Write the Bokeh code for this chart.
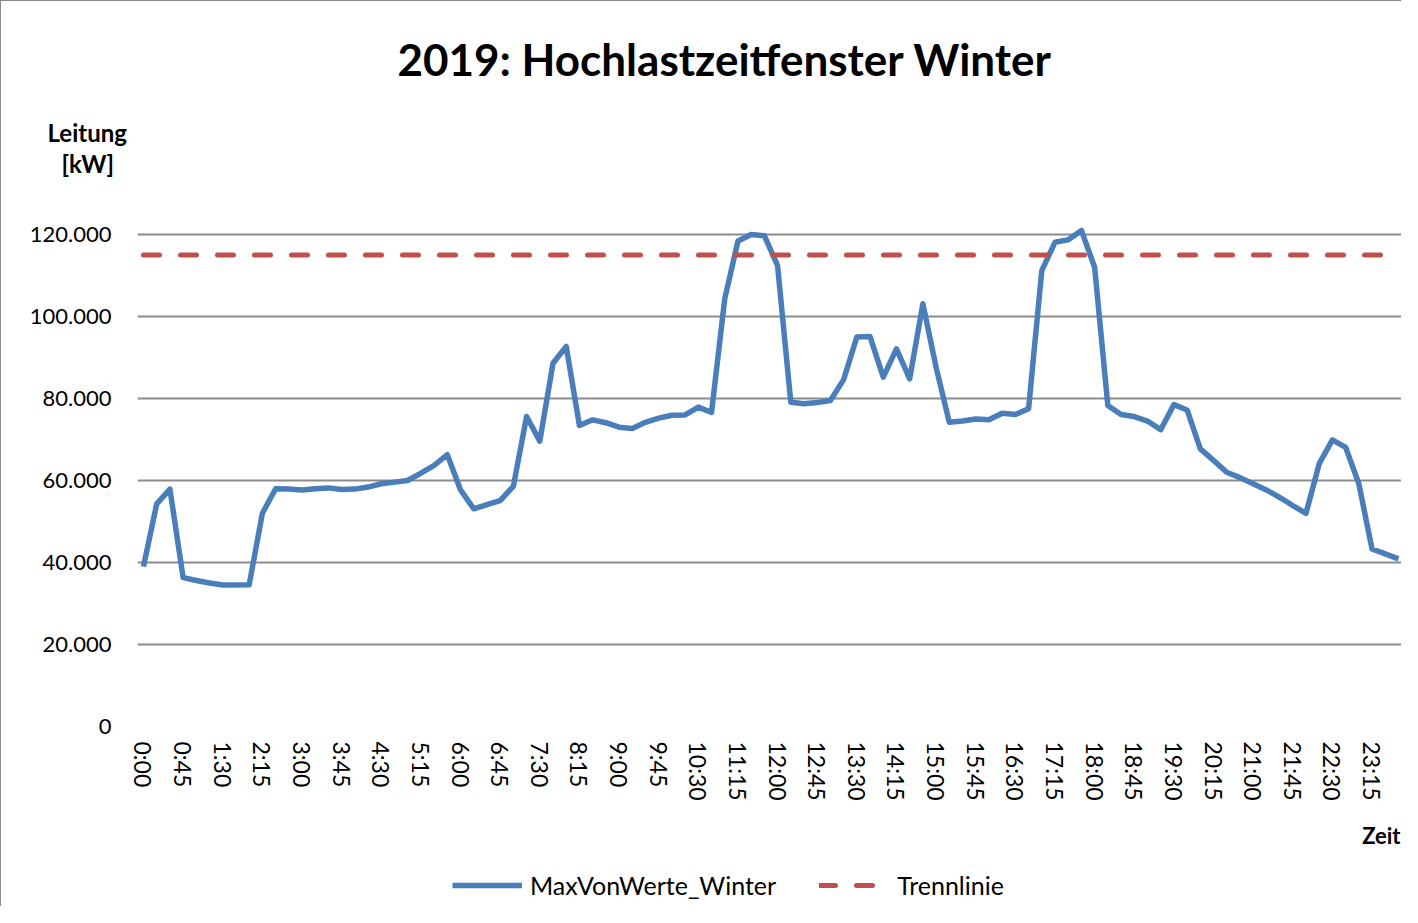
from bokeh.plotting import figure
from bokeh.models import (Legend, LegendItem, FixedTicker, Range1d, Title, Label)
from bokeh.layouts import column
from bokeh.embed import file_html
from bokeh.resources import INLINE

# ---------------- data ----------------
times = [f"{h}:{m:02d}" for h in range(24) for m in (0, 15, 30, 45)]
max_winter = [
    39000, 54300, 57900, 36300, 35600, 35000, 34500, 34500, 34600, 52000,
    58000, 57900, 57700, 58000, 58200, 57800, 57900, 58400, 59200, 59600,
    60000, 61800, 63700, 66300, 57700, 53100, 54100, 55100, 58600, 75600,
    69600, 88600, 92700, 73400, 74800, 74100, 73000, 72700, 74200, 75200,
    75900, 76000, 77900, 76600, 104300, 118400, 120000, 119700, 112400, 79100,
    78700, 79000, 79500, 84600, 95000, 95100, 85200, 92100, 84800, 103100,
    87600, 74200, 74500, 75000, 74800, 76400, 76100, 77500, 111200, 118100,
    118700, 121000, 112000, 78300, 76100, 75600, 74500, 72400, 78500, 77200,
    67700, 64900, 62000, 60700, 59200, 57700, 55900, 53900, 52000, 64100,
    69900, 68100, 59200, 43300, 42100, 40900,
]
trennlinie = [115000] * len(times)
y_ticks = [0, 20000, 40000, 60000, 80000, 100000, 120000]
y_tick_labels = ["0", "20.000", "40.000", "60.000", "80.000", "100.000", "120.000"]
title_text = "2019: Hochlastzeitfenster Winter"
y_title = ["Leitung", "[kW]"]
x_title = "Zeit"
series_names = ["MaxVonWerte_Winter", "Trennlinie"]

# ---------------- styles ----------------
FONT = "Lato"
BLUE, RED = "#4a7ebb", "#c0504d"
BLUE_W, RED_W, RED_DASH = 5.5, 5, "16 21"
W = 1401
BL, BR = 136, 1
x = list(range(len(times)))

# ---------------- main chart ----------------
p = figure(width=W, height=810, output_backend="svg", toolbar_location=None,
           title=None,
           x_range=Range1d(-0.454, 95.23), y_range=Range1d(0, 133415),
           min_border_left=BL, min_border_right=BR,
           min_border_top=178, min_border_bottom=85)
p.outline_line_color = None
p.background_fill_color = "white"
p.border_fill_color = "white"
p.styles = {"border-left": "1px solid #8c8c8c", "border-top": "1px solid #8c8c8c"}

p.line(x, max_winter, line_color=BLUE, line_width=BLUE_W, line_join="round")
p.line(x, trennlinie, line_color=RED, line_width=RED_W,
       line_dash=RED_DASH, line_cap="round")

p.xaxis.ticker = FixedTicker(ticks=x[::3])
p.xaxis.major_label_overrides = {i: times[i] for i in x[::3]}
p.xaxis.major_label_orientation = "vertical"
p.xaxis.major_label_text_font = FONT
p.xaxis.major_label_text_font_size = "23px"
p.xaxis.major_label_text_color = "black"
p.xaxis.major_label_standoff = 9
p.xaxis.axis_line_color = None
p.xaxis.major_tick_line_color = None
p.xaxis.minor_tick_line_color = None

p.yaxis.ticker = FixedTicker(ticks=y_ticks)
p.yaxis.major_label_overrides = dict(zip(y_ticks, y_tick_labels))
p.yaxis.major_label_text_font = FONT
p.yaxis.major_label_text_font_size = "22px"
p.yaxis.major_label_text_color = "black"
p.yaxis.major_label_standoff = 20
p.yaxis.axis_line_color = None
p.yaxis.major_tick_line_color = None
p.yaxis.minor_tick_line_color = None

p.xgrid.grid_line_color = None
p.ygrid.ticker = FixedTicker(ticks=y_ticks)
p.ygrid.grid_line_color = "#8c8c8c"
p.ygrid.grid_line_width = 2

# texts above the frame (innermost first)
p.add_layout(Title(text=y_title[1], align="left", offset=-76, standoff=1,
                   vertical_align="middle", text_font=FONT, text_font_style="bold",
                   text_font_size="24px", text_color="black"), "above")
p.add_layout(Title(text=y_title[0], align="left", offset=-90, standoff=0,
                   vertical_align="middle", text_font=FONT, text_font_style="bold",
                   text_font_size="24px", text_color="black"), "above")
p.add_layout(Title(text=title_text, align="left", offset=260, standoff=61,
                   vertical_align="middle", text_font=FONT, text_font_style="bold",
                   text_font_size="44px", text_color="black"), "above")

# ---------------- bottom strip: axis title + legend ----------------
LH = 96
FW = W - BL - BR  # frame width of the strip (pixels == data units)
q = figure(width=W, height=LH, output_backend="svg", toolbar_location=None,
           title=None, x_axis_location=None, y_axis_location=None,
           x_range=Range1d(0, FW), y_range=Range1d(0, LH),
           min_border_left=BL, min_border_right=BR, min_border_top=0, min_border_bottom=0)
q.outline_line_color = None
q.grid.visible = False
q.background_fill_color = "white"
q.border_fill_color = "white"
q.styles = {"border-left": "1px solid #8c8c8c"}

# legend keys: the same series with the same styles (their values lie far
# above this strip's range, so only the legend glyphs are seen here)
k1 = q.line(x, max_winter, line_color=BLUE, line_width=BLUE_W)
k2 = q.line(x, trennlinie, line_color=RED, line_width=RED_W,
            line_dash=RED_DASH, line_cap="round")

q.add_layout(Label(x=FW - 1, y=71, text=x_title, text_font=FONT, text_font_style="bold",
                   text_font_size="22px", text_align="right", text_baseline="middle",
                   text_color="black"))

legend = Legend(items=[LegendItem(label=series_names[0], renderers=[k1]),
                       LegendItem(label=series_names[1], renderers=[k2])],
                orientation="horizontal", location=(451 - BL, 6),
                glyph_width=70, glyph_height=26, label_height=26,
                label_standoff=8, spacing=43, padding=0, margin=0,
                border_line_color=None, background_fill_alpha=0,
                label_text_font=FONT, label_text_font_size="25px",
                label_text_color="black")
q.add_layout(legend, "center")

layout = column(p, q, spacing=0)
open("out.html", "w").write(file_html(layout, INLINE))
